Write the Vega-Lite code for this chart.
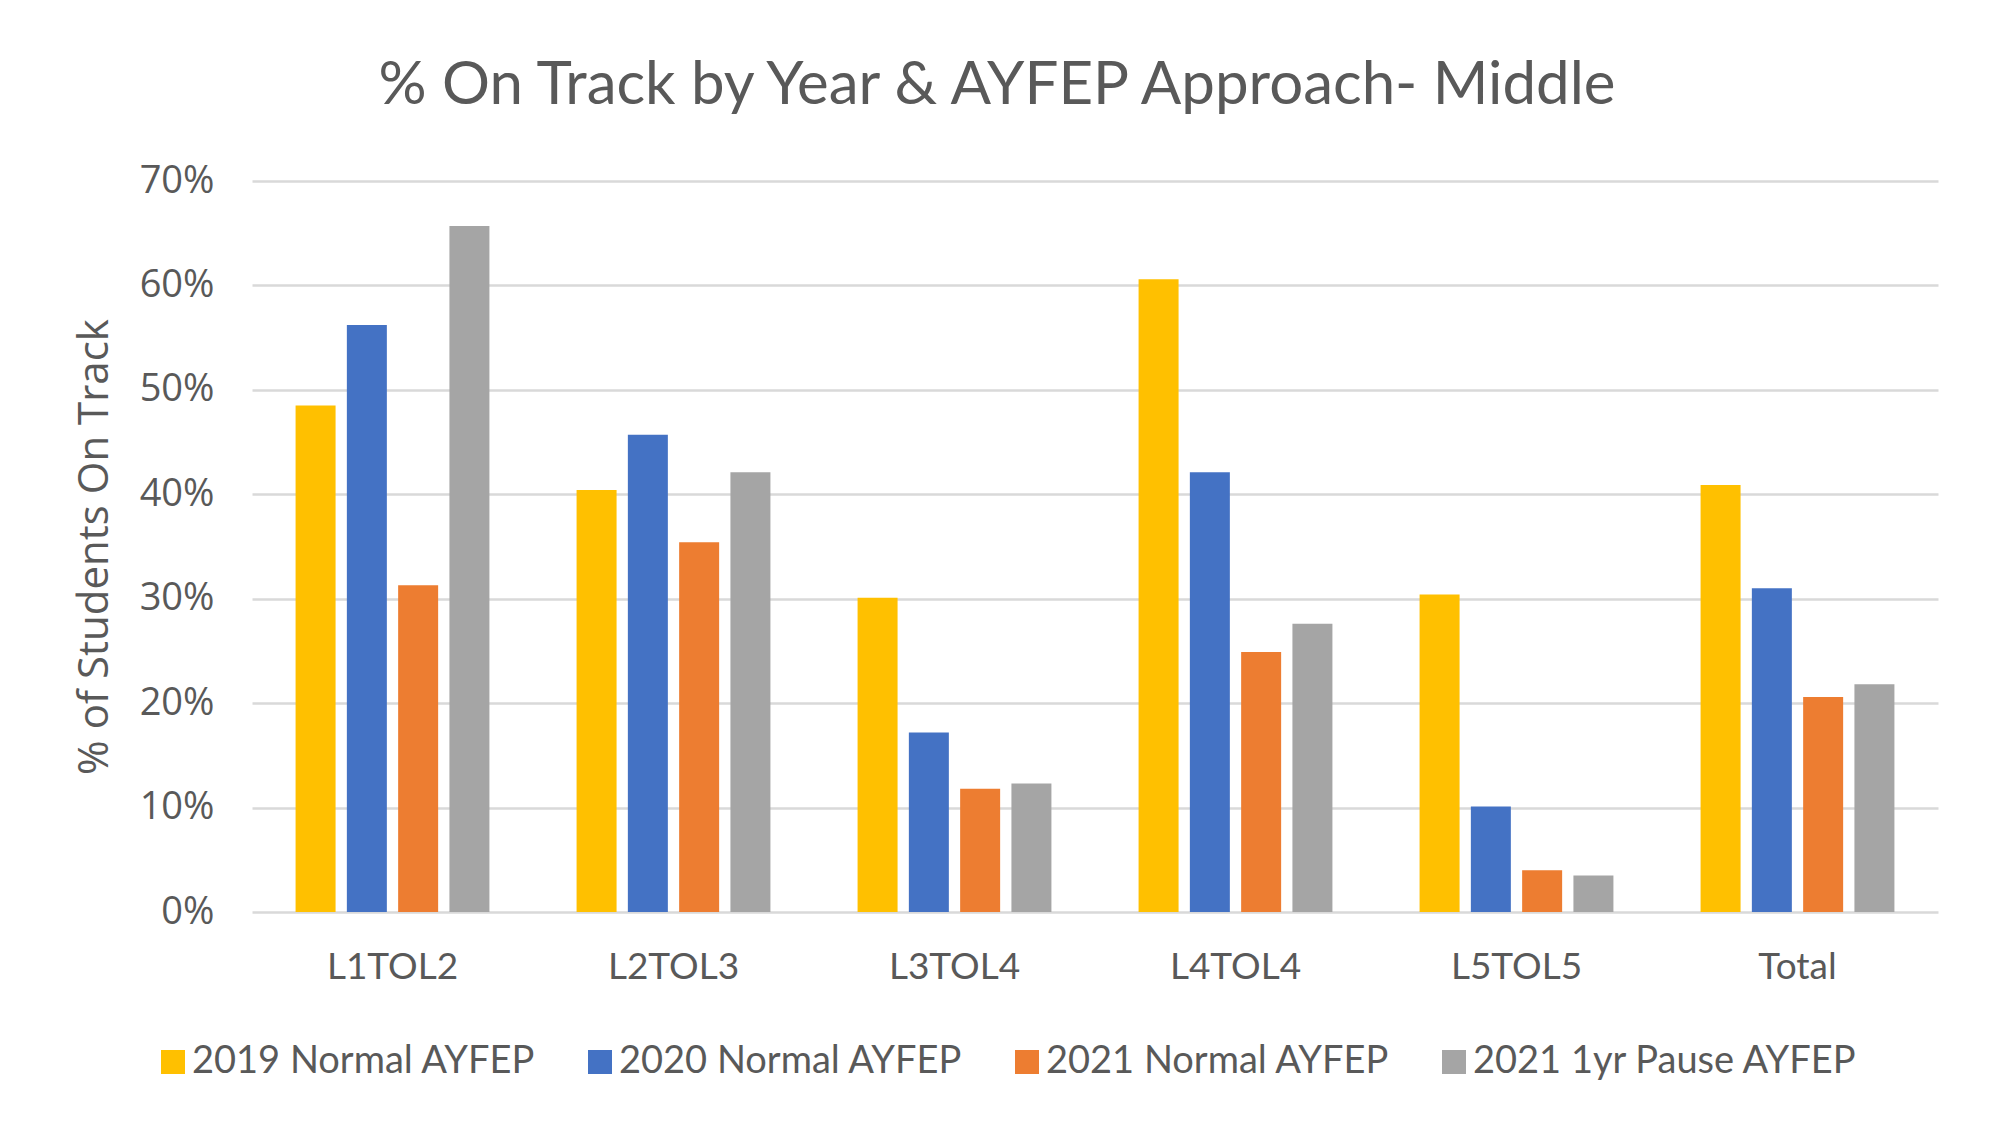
{
  "$schema": "https://vega.github.io/schema/vega-lite/v6.json",
  "width": 1686,
  "height": 731,
  "autosize": "none",
  "padding": {"left": 252, "top": 181, "right": 59, "bottom": 214},
  "background": "white",
  "title": {
    "text": "% On Track by Year & AYFEP Approach- Middle",
    "font": "Lato",
    "fontSize": 60,
    "fontWeight": "normal",
    "color": "#595959",
    "anchor": "middle",
    "dx": -98,
    "offset": 45
  },
  "data": {
    "values": [
      {"level": "L1TOL2", "series": "2019 Normal AYFEP", "value": 0.485},
      {"level": "L1TOL2", "series": "2020 Normal AYFEP", "value": 0.562},
      {"level": "L1TOL2", "series": "2021 Normal AYFEP", "value": 0.313},
      {"level": "L1TOL2", "series": "2021 1yr Pause AYFEP", "value": 0.657},
      {"level": "L2TOL3", "series": "2019 Normal AYFEP", "value": 0.404},
      {"level": "L2TOL3", "series": "2020 Normal AYFEP", "value": 0.457},
      {"level": "L2TOL3", "series": "2021 Normal AYFEP", "value": 0.354},
      {"level": "L2TOL3", "series": "2021 1yr Pause AYFEP", "value": 0.421},
      {"level": "L3TOL4", "series": "2019 Normal AYFEP", "value": 0.301},
      {"level": "L3TOL4", "series": "2020 Normal AYFEP", "value": 0.172},
      {"level": "L3TOL4", "series": "2021 Normal AYFEP", "value": 0.118},
      {"level": "L3TOL4", "series": "2021 1yr Pause AYFEP", "value": 0.123},
      {"level": "L4TOL4", "series": "2019 Normal AYFEP", "value": 0.606},
      {"level": "L4TOL4", "series": "2020 Normal AYFEP", "value": 0.421},
      {"level": "L4TOL4", "series": "2021 Normal AYFEP", "value": 0.249},
      {"level": "L4TOL4", "series": "2021 1yr Pause AYFEP", "value": 0.276},
      {"level": "L5TOL5", "series": "2019 Normal AYFEP", "value": 0.304},
      {"level": "L5TOL5", "series": "2020 Normal AYFEP", "value": 0.101},
      {"level": "L5TOL5", "series": "2021 Normal AYFEP", "value": 0.040},
      {"level": "L5TOL5", "series": "2021 1yr Pause AYFEP", "value": 0.035},
      {"level": "Total", "series": "2019 Normal AYFEP", "value": 0.409},
      {"level": "Total", "series": "2020 Normal AYFEP", "value": 0.310},
      {"level": "Total", "series": "2021 Normal AYFEP", "value": 0.206},
      {"level": "Total", "series": "2021 1yr Pause AYFEP", "value": 0.218}
    ]
  },
  "mark": {"type": "bar"},
  "encoding": {
    "x": {
      "field": "level",
      "type": "nominal",
      "sort": ["L1TOL2", "L2TOL3", "L3TOL4", "L4TOL4", "L5TOL5", "Total"],
      "scale": {"paddingInner": 0.27, "paddingOuter": 0.135},
      "axis": {
        "title": null,
        "labelAngle": 0,
        "labelFont": "Lato",
        "labelFontSize": 37,
        "labelColor": "#595959",
        "labelPadding": 37,
        "ticks": false,
        "domain": false,
        "grid": false
      }
    },
    "xOffset": {
      "field": "series",
      "type": "nominal",
      "sort": ["2019 Normal AYFEP", "2020 Normal AYFEP", "2021 Normal AYFEP", "2021 1yr Pause AYFEP"],
      "scale": {"paddingInner": 0.22, "paddingOuter": 0.11}
    },
    "y": {
      "field": "value",
      "type": "quantitative",
      "scale": {"domain": [0, 0.7]},
      "axis": {
        "format": ".0%",
        "values": [0, 0.1, 0.2, 0.3, 0.4, 0.5, 0.6, 0.7],
        "title": "% of Students On Track",
        "titleFont": "Open Sans",
        "titleFontSize": 42,
        "titleFontWeight": "normal",
        "titleColor": "#595959",
        "titlePadding": 23,
        "labelFont": "Open Sans",
        "labelFontSize": 38,
        "labelColor": "#595959",
        "labelPadding": 38,
        "ticks": false,
        "domain": false,
        "grid": true,
        "gridColor": "#D9D9D9",
        "gridWidth": 2.5
      }
    },
    "color": {
      "field": "series",
      "type": "nominal",
      "scale": {
        "domain": ["2019 Normal AYFEP", "2020 Normal AYFEP", "2021 Normal AYFEP", "2021 1yr Pause AYFEP"],
        "range": ["#FFC000", "#4472C4", "#ED7D31", "#A5A5A5"]
      },
      "legend": {
        "title": null,
        "orient": "none",
        "legendX": -98,
        "legendY": 862,
        "direction": "horizontal",
        "symbolType": "square",
        "symbolSize": 576,
        "symbolStrokeWidth": 0,
        "symbolOpacity": 1,
        "labelFont": "Lato",
        "labelFontSize": 38,
        "labelColor": "#595959",
        "labelOffset": 0,
        "columnPadding": 45,
        "labelLimit": 600
      }
    }
  },
  "config": {"view": {"stroke": null}}
}
